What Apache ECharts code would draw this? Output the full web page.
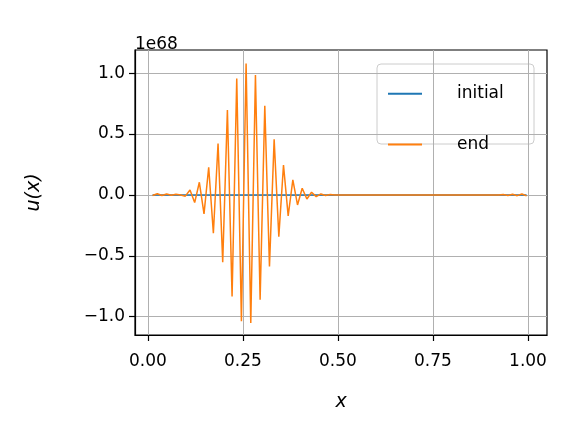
<!DOCTYPE html><html><head><script src="https://cdn.jsdelivr.net/npm/echarts@6/dist/echarts.min.js"></script></head><body style="margin:0"><div id="c" style="width:576px;height:432px"></div><script>
const dx = 0.0123;
const endVals = [-0.005,0.01,-0.005,0.008,-0.003,0.005,0.0,-0.01,0.041,-0.063,0.104,-0.156,0.227,-0.314,0.423,-0.552,0.697,-0.833,0.956,-1.038,1.079,-1.052,0.984,-0.861,0.732,-0.587,0.456,-0.342,0.246,-0.172,0.123,-0.082,0.055,-0.033,0.022,-0.014,0.008,-0.004,0.003,0,0,0,0,0,0,0,0,0,0,0,0,0,0,0,0,0,0,0,0,0,0,0,0,0,0,0,0,0,0,0,0,0,0,0,0,0.003,-0.004,0.005,-0.006,0.008,-0.008];
const xTicks = [0,0.25,0.5,0.75,1.0];
const yTicks = [-1.0,-0.5,0,0.5,1.0];
const endData = endVals.map((v,i)=>[(i+1)*dx, v]);
const initData = endVals.map((v,i)=>[(i+1)*dx, 0]);
const f = "DejaVu Sans";
const ax = {lineStyle:{color:'#000',width:1.2}};
const c = echarts.init(document.getElementById('c'));
c.setOption({
 animation:false,
 grid:{left:135,right:29,top:50,bottom:97,show:true,borderColor:'#000',borderWidth:1.2,backgroundColor:'transparent'},
 xAxis:{type:'value',min:-0.034,max:1.05,name:'x',nameLocation:'middle',nameGap:44,
  nameTextStyle:{fontFamily:f,fontSize:19,fontStyle:'italic',color:'#000'},
  axisLine:{show:true,onZero:false,...ax},
  axisTick:{show:true,length:6,customValues:xTicks,lineStyle:{color:'#000',width:1.2}},
  axisLabel:{customValues:xTicks,fontFamily:f,fontSize:17,color:'#000',margin:10,formatter:v=>v.toFixed(2)},
  splitLine:{show:true,lineStyle:{color:'#b0b0b0',width:1}}},
 yAxis:{type:'value',min:-1.15,max:1.19,name:'u(x)',nameLocation:'middle',nameGap:82,
  nameTextStyle:{fontFamily:f,fontSize:19,fontStyle:'italic',color:'#000'},
  axisLine:{show:true,onZero:false,...ax},
  axisTick:{show:true,length:6,customValues:yTicks,lineStyle:{color:'#000',width:1.2}},
  axisLabel:{customValues:yTicks,fontFamily:f,fontSize:17,color:'#000',margin:10,formatter:v=>(v<0?'\u2212':'')+Math.abs(v).toFixed(1)},
  splitLine:{show:true,lineStyle:{color:'#b0b0b0',width:1}}},
 graphic:[{type:'text',left:135,top:28,style:{text:'1e68',font:'17px "DejaVu Sans"',fill:'#000'}},
  {type:'rect',shape:{x:377,y:64,width:157,height:80,r:4},style:{fill:'rgba(255,255,255,0.8)',stroke:'#cccccc'}}],
 legend:{left:383,top:72,orient:'vertical',itemGap:17,itemWidth:34,itemHeight:2,icon:'rect',
  textStyle:{fontFamily:f,fontSize:17,color:'#000',padding:[0,0,0,30]},data:['initial','end']},
 series:[
  {name:'initial',type:'line',data:initData,showSymbol:false,lineStyle:{color:'#1f77b4',width:1.5},itemStyle:{color:'#1f77b4'}},
  {name:'end',type:'line',data:endData,showSymbol:false,lineStyle:{color:'#ff7f0e',width:1.5},itemStyle:{color:'#ff7f0e'}}
 ]
});
</script></body></html>
